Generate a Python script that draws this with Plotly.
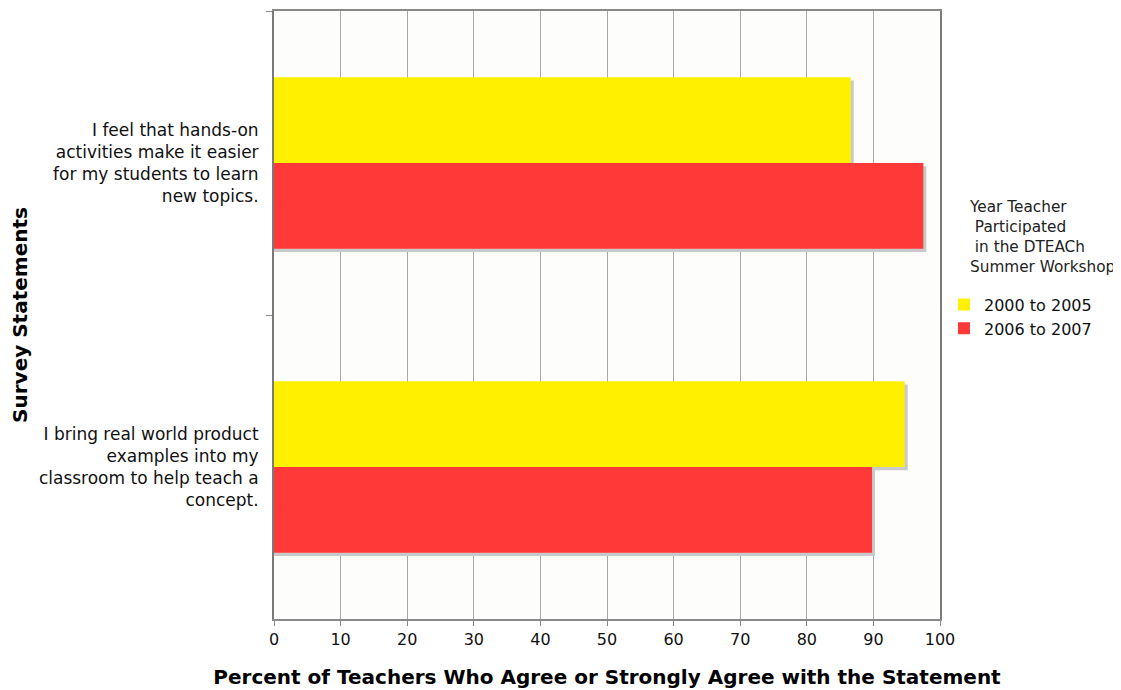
import plotly.graph_objects as go

categories = [
    "I feel that hands-on<br>activities make it easier<br>for my students to learn<br>new topics.",
    "I bring real world product<br>examples into my<br>classroom to help teach a<br>concept.",
]
series_names = ["2000 to 2005", "2006 to 2007"]
values_2000_2005 = [86.6, 94.7]
values_2006_2007 = [97.5, 89.8]
colors = ["#FFF000", "#FF3838"]
x_ticks = list(range(0, 101, 10))
legend_title = "Year Teacher<br>\u00a0Participated<br>\u00a0in the DTEACh<br>Summer Workshop"

W = 0.282
fig = go.Figure()
series = [values_2000_2005, values_2006_2007]
offsets = [-W, 0.0]
# shadows
for vals, off in zip(series, offsets):
    fig.add_trace(go.Bar(
        y=categories, x=[v + 0.45 for v in vals], orientation="h",
        width=W, offset=off + 0.011, marker=dict(color="#c9c9c9", line=dict(width=0)),
        showlegend=False, hoverinfo="skip",
    ))
for name, vals, off, col in zip(series_names, series, offsets, colors):
    fig.add_trace(go.Bar(
        y=categories, x=vals, orientation="h", name=name,
        width=W, offset=off, marker=dict(color=col, line=dict(width=0)),
    ))

fig.update_layout(
    width=1113, height=682,
    barmode="overlay",
    paper_bgcolor="white",
    plot_bgcolor="#FDFDFB",
    margin=dict(l=266, r=181, t=1, b=71),
    font=dict(family="DejaVu Sans", size=17, color="#111111"),
    legend=dict(
        x=1.006, y=0.545, xanchor="left", yanchor="top",
        font=dict(size=16, color="#111111"),
        itemwidth=30, tracegroupgap=0,
        bgcolor="rgba(0,0,0,0)",
    ),
    annotations=[dict(
        text=legend_title, xref="paper", yref="paper", x=1.0405, y=0.695,
        xanchor="left", yanchor="top", align="left", showarrow=False,
        font=dict(size=15.3, color="#222222"),
    )],
    xaxis=dict(
        range=[0, 100], tickvals=x_ticks, ticktext=[str(t) for t in x_ticks],
        showgrid=True, gridcolor="#a8a8a8", gridwidth=1,
        ticks="outside", ticklen=5, tickcolor="#888888",
        showline=True, linecolor="#8a8a8a", linewidth=2, mirror=True,
        zeroline=False,
        tickfont=dict(size=16),
        title=dict(text="<b>Percent of Teachers Who Agree or Strongly Agree with the Statement</b>",
                   font=dict(size=20, color="#000000"), standoff=22),
    ),
    yaxis=dict(
        autorange="reversed",
        tickson="boundaries", ticks="outside", ticklen=6, tickcolor="#888888",
        showgrid=False,
        showline=True, linecolor="#7a7a7a", linewidth=2, mirror=True,
        tickfont=dict(size=17),
        ticklabelstandoff=10,
        title=dict(text="<b>Survey Statements</b>", font=dict(size=20, color="#000000"), standoff=10),
    ),
)

fig.write_html("out.html")
